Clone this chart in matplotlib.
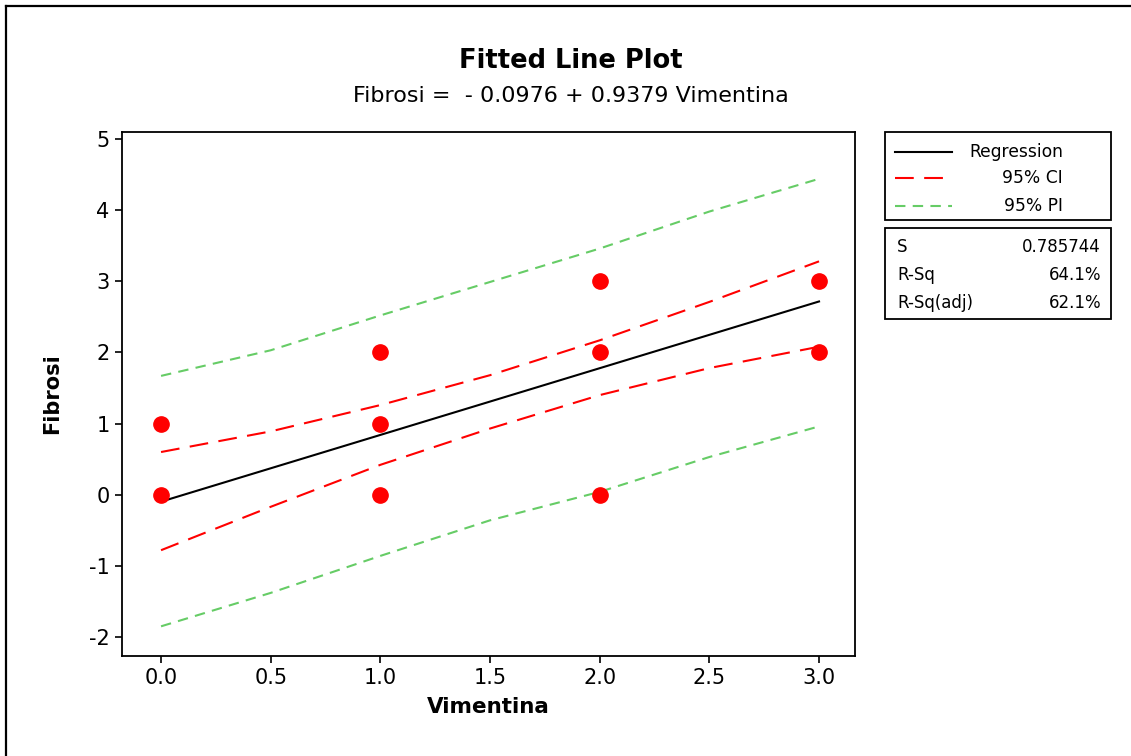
import matplotlib
matplotlib.use("Agg")
import matplotlib.pyplot as plt
from matplotlib.lines import Line2D
from matplotlib.patches import Rectangle

plt.rcParams['font.family'] = ['DejaVu Sans']
plt.rcParams['axes.unicode_minus'] = False

# observed data (distinct points visible in the plot)
vimentina = [0, 0, 1, 1, 1, 2, 2, 2, 3, 3]
fibrosi = [0, 1, 0, 1, 2, 0, 2, 3, 2, 3]

# fitted coefficients
intercept = -0.0976
slope = 0.9379

# confidence / prediction bands
band_x = [0.0, 0.5, 1.0, 1.5, 2.0, 2.5, 3.0]
ci_upper = [0.60, 0.89, 1.26, 1.68, 2.17, 2.71, 3.28]
ci_lower = [-0.78, -0.17, 0.42, 0.93, 1.40, 1.78, 2.08]
pi_upper = [1.67, 2.03, 2.52, 2.99, 3.46, 3.98, 4.44]
pi_lower = [-1.85, -1.38, -0.86, -0.36, 0.04, 0.53, 0.96]

stat_names = ["S", "R-Sq", "R-Sq(adj)"]
stat_values = ["0.785744", "64.1%", "62.1%"]

W, H = 1131, 756
fig = plt.figure(figsize=(W / 100, H / 100), dpi=100)
fig.patch.set_facecolor('white')

def fx(px):
    return px / W

def fy(py):
    return 1 - py / H

# outer frame (left and top edge visible)
fig.add_artist(Line2D([fx(5.5), fx(5.5)], [0, fy(5.5)], color='black', lw=1.6))
fig.add_artist(Line2D([fx(5.5), 1], [fy(5.5), fy(5.5)], color='black', lw=1.6))

ax = fig.add_axes([fx(122), fy(656), fx(855) - fx(122), fy(132) - fy(656)])

green = '#66CC66'
reg_x = [0.0, 3.0]
reg_y = [intercept + slope * v for v in reg_x]
ax.plot(reg_x, reg_y, color='black', lw=1.5)
ax.plot(band_x, ci_upper, color='red', lw=1.5, dashes=(9, 5))
ax.plot(band_x, ci_lower, color='red', lw=1.5, dashes=(9, 5))
ax.plot(band_x, pi_upper, color=green, lw=1.5, dashes=(5, 3.5))
ax.plot(band_x, pi_lower, color=green, lw=1.5, dashes=(5, 3.5))
ax.plot(vimentina, fibrosi, 'o', color='red', markersize=11, zorder=5)

ax.set_xlim(-0.178, 3.164)
ax.set_ylim(-2.267, 5.098)
ax.set_xticks([0.0, 0.5, 1.0, 1.5, 2.0, 2.5, 3.0])
ax.set_xticklabels(["0.0", "0.5", "1.0", "1.5", "2.0", "2.5", "3.0"])
ax.set_yticks([-2, -1, 0, 1, 2, 3, 4, 5])
ax.tick_params(direction='out', length=5, width=1.2, labelsize=15, pad=4)
for s in ax.spines.values():
    s.set_linewidth(1.3)

ax.set_xlabel("Vimentina", fontsize=15.5, fontweight='bold', labelpad=6)
ax.set_ylabel("Fibrosi", fontsize=15, fontweight='bold', labelpad=19)

fig.text(fx(571), fy(61), "Fitted Line Plot", ha='center', va='center',
         fontsize=18.5, fontweight='bold')
fig.text(fx(571), fy(96), "Fibrosi =  - 0.0976 + 0.9379 Vimentina",
         ha='center', va='center', fontsize=16)

# legend box
fig.add_artist(Rectangle((fx(885), fy(220)), fx(1111) - fx(885), fy(131.5) - fy(220),
                         fill=False, edgecolor='black', lw=1.3))
leg_rows = [151.7, 178.3, 206]
leg_labels = ["Regression", "95% CI", "95% PI"]
leg_styles = [dict(color='black'), dict(color='red', dashes=(9, 5)),
              dict(color=green, dashes=(5, 3.5))]
for yy, lab, st in zip(leg_rows, leg_labels, leg_styles):
    fig.add_artist(Line2D([fx(895), fx(952)], [fy(yy), fy(yy)], lw=1.5, **st))
    fig.text(fx(1063), fy(yy), lab, ha='right', va='center', fontsize=12.3)

# statistics box
fig.add_artist(Rectangle((fx(885), fy(318.5)), fx(1111) - fx(885), fy(227.5) - fy(318.5),
                         fill=False, edgecolor='black', lw=1.3))
stat_rows = [246.7, 275, 302.7]
for yy, n, v in zip(stat_rows, stat_names, stat_values):
    fig.text(fx(897), fy(yy), n, ha='left', va='center', fontsize=12)
    fig.text(fx(1101), fy(yy), v, ha='right', va='center', fontsize=12)

fig.savefig("out.png", dpi=100)
